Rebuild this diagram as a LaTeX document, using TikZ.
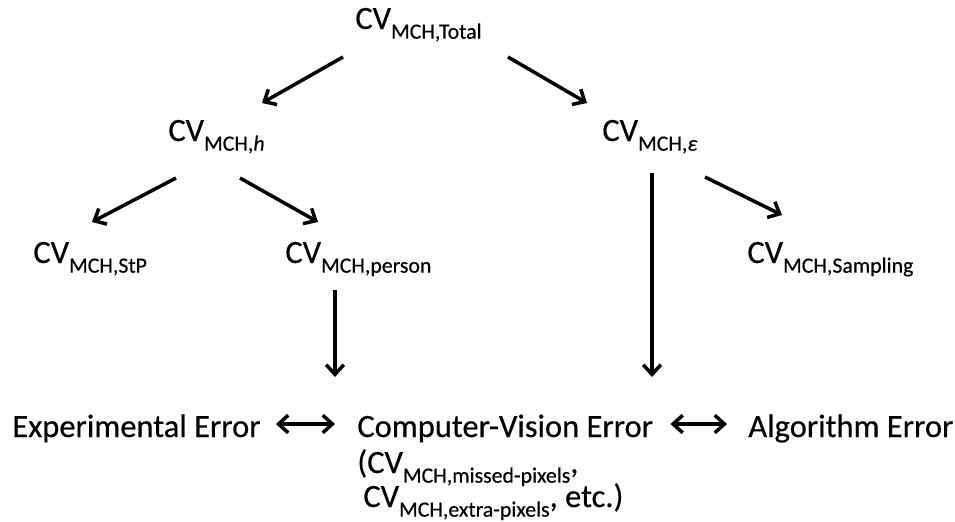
\documentclass[tikz,border=0pt]{standalone}
\usepackage{fontspec}
\setmainfont[FakeBold=0.4]{Carlito}
\usepackage{tikz}
\usetikzlibrary{arrows.meta,positioning}

\newcommand{\subfont}{\fontsize{12.4}{14}\selectfont}
\newcommand{\cvm}[1]{CV\raisebox{-5.5pt}{\subfont MCH,#1}}

\tikzset{
  lbl/.style={inner sep=0pt,anchor=base west,font=\fontsize{18.5}{22}\selectfont},
  arr/.style={line width=2pt,-{Straight Barb[length=5.5pt,width=10pt]}},
  darr/.style={line width=2pt,{Straight Barb[length=5.5pt,width=10pt]}-{Straight Barb[length=5.5pt,width=10pt]}}
}

\begin{document}
\begin{tikzpicture}[x=0.02cm,y=-0.02cm]
 \useasboundingbox (0,0) rectangle (955,521);
 \node[lbl] (total) at (355,29) {\cvm{Total}};
 \node[lbl] (h) at (168,141) {\cvm{\textit{h}}};
 \node[lbl] (eps) at (602,141) {\cvm{\textit{ε}}};
 \node[lbl] (stp) at (33,263) {\cvm{StP}};
 \node[lbl] (person) at (285,263) {\cvm{person}};
 \node[lbl] (samp) at (747,263) {\cvm{Sampling}};
 \node[lbl] (exp) at (12,437) {Experimental Error};
 \node[lbl] (cve) at (357,437) {Computer-Vision Error};
 \node[lbl] (alg) at (748,437) {Algorithm Error};
 \node[lbl] (miss) at (357,473) {(\cvm{missed-pixels},};
 \node[lbl] (extra) at (363,507) {\cvm{extra-pixels}, etc.)};

 \draw[arr] ([shift={(-12,28)}]total.base west) -- ([shift={(94,-38)}]h.base west);
 \draw[arr] ([shift={(153,28)}]total.base west) -- ([shift={(-15,-38)}]eps.base west);
 \draw[arr] ([shift={(8,37)}]h.base west) -- ([shift={(59,-41)}]stp.base west);
 \draw[arr] ([shift={(72,37)}]h.base west) -- ([shift={(33,-41)}]person.base west);
 \draw[arr] ([shift={(103,36)}]eps.base west) -- ([shift={(35,-48)}]samp.base west);
 \draw[arr] ([shift={(50,32)}]eps.base west) -- ([shift={(295,-60)}]cve.base west);
 \draw[arr] ([shift={(50,27)}]person.base west) -- ([shift={(-22,-60)}]cve.base west);
 \draw[darr] ([shift={(15,-13)}]exp.base east) -- ([shift={(-22,-13)}]cve.base west);
 \draw[darr] ([shift={(17,-13)}]cve.base east) -- ([shift={(-21,-13)}]alg.base west);
\end{tikzpicture}
\end{document}
